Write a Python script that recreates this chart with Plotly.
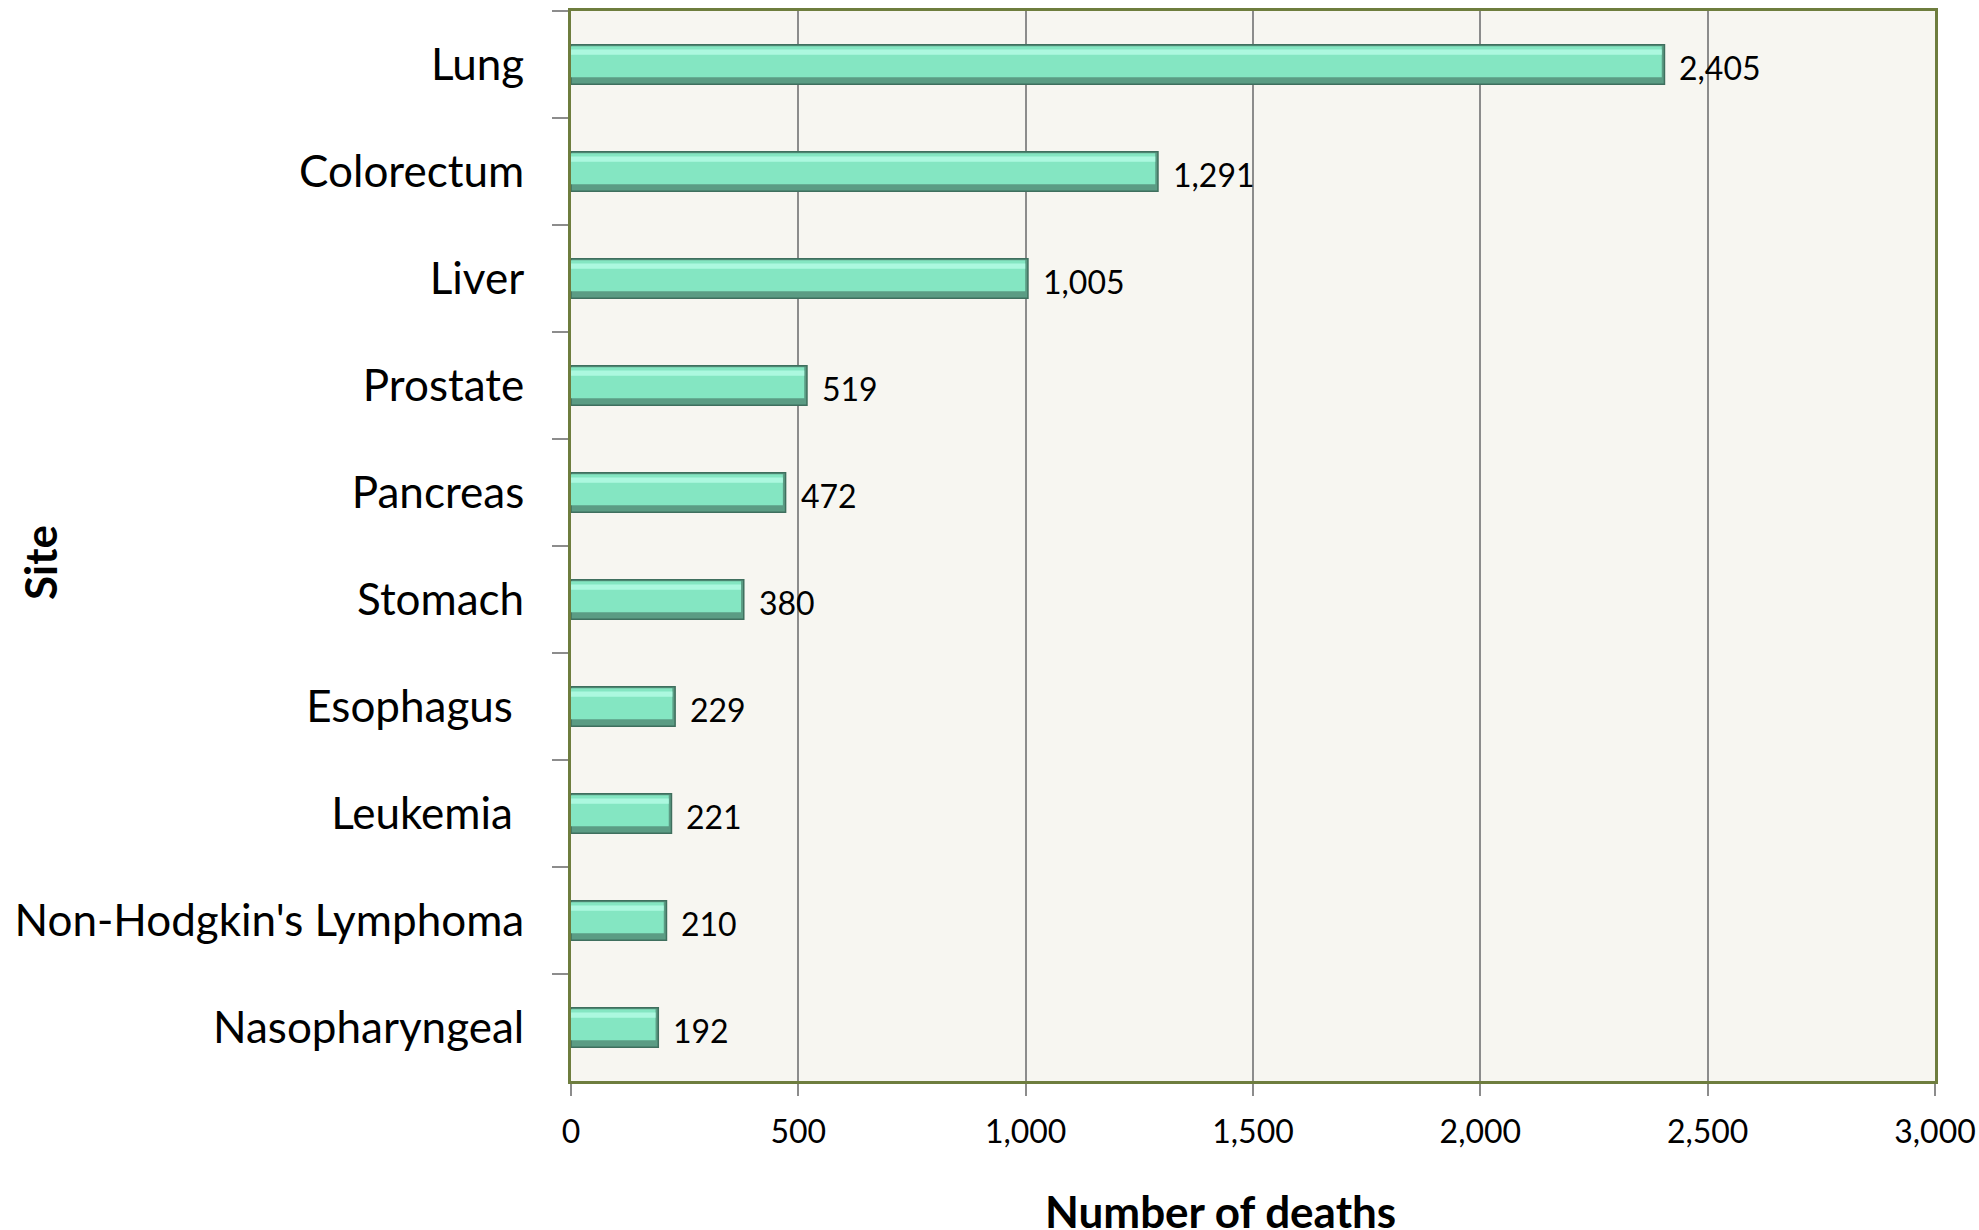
import plotly.graph_objects as go

# ---------------- data ----------------
sites = ["Lung", "Colorectum", "Liver", "Prostate", "Pancreas", "Stomach",
         "Esophagus\u00a0", "Leukemia\u00a0", "Non-Hodgkin's Lymphoma", "Nasopharyngeal"]
deaths = [2405, 1291, 1005, 519, 472, 380, 229, 221, 210, 192]
x_tick_values = [0, 500, 1000, 1500, 2000, 2500, 3000]
x_tick_labels = ["0", "500", "1,000", "1,500", "2,000", "2,500", "3,000"]
x_title = "Number of deaths"
y_title = "Site"
source_note = "The HK Cancer Registry"

# ---------------- layout geometry ----------------
W, H = 1979, 1230
L, R, T, B = 571, 44, 11, 149
PW, PH = W - L - R, H - T - B


def px_to_paper_x(px):
    return (px - L) / PW


def px_to_paper_y(py):
    return (H - B - py) / PH


FONT = "Lato, 'Open Sans', sans-serif"

fig = go.Figure()

# shadow / outline bar
fig.add_trace(go.Bar(
    x=deaths, y=sites, orientation="h",
    width=0.37, offset=-0.185,
    marker=dict(color="#5B9C84", line=dict(color="#3F6F5E", width=1.5)),
    hoverinfo="skip", showlegend=False,
))
# main face
fig.add_trace(go.Bar(
    x=[v - 6 for v in deaths], y=sites, orientation="h",
    width=0.29, offset=-0.17,
    marker=dict(color="#84E6C2", line=dict(width=0)),
    hoverinfo="skip", showlegend=False,
))
# highlight stripe
fig.add_trace(go.Bar(
    x=[v - 6 for v in deaths], y=sites, orientation="h",
    width=0.05, offset=-0.14,
    marker=dict(color="#ACF8DF", line=dict(width=0)),
    hoverinfo="skip", showlegend=False,
))

annotations = []
for s, v in zip(sites, deaths):
    annotations.append(dict(
        x=v, y=s, xref="x", yref="y", text=f"{v:,}",
        xanchor="left", yanchor="middle", xshift=13, yshift=-3,
        showarrow=False, font=dict(family=FONT, size=32, color="#000000"),
    ))

annotations.append(dict(
    x=px_to_paper_x(1220), y=px_to_paper_y(1211), xref="paper", yref="paper",
    text=f"<b>{x_title}</b>", showarrow=False, xanchor="center", yanchor="middle",
    font=dict(family=FONT, size=44, color="#000000"),
))
annotations.append(dict(
    x=px_to_paper_x(40), y=px_to_paper_y(563), xref="paper", yref="paper",
    text=f"<b>{y_title}</b>", showarrow=False, xanchor="center", yanchor="middle",
    textangle=-90, font=dict(family=FONT, size=44, color="#000000"),
))
annotations.append(dict(
    x=px_to_paper_x(3), y=px_to_paper_y(1221), xref="paper", yref="paper",
    text=f"<b>{source_note}</b>", showarrow=False, xanchor="left", yanchor="top",
    font=dict(family=FONT, size=32, color="#000000"),
))

fig.update_layout(
    width=W, height=H,
    autosize=False,
    margin=dict(l=L, r=R, t=T, b=B, pad=0, autoexpand=False),
    paper_bgcolor="#FFFFFF",
    plot_bgcolor="#F7F6F1",
    barmode="overlay",
    showlegend=False,
    font=dict(family=FONT, color="#000000"),
    annotations=annotations,
)

fig.update_xaxes(
    range=[0, 3000],
    automargin=False,
    tickmode="array", tickvals=x_tick_values, ticktext=x_tick_labels,
    tickfont=dict(family=FONT, size=32, color="#000000"),
    showgrid=True, gridcolor="#8C8C8C", gridwidth=1.5,
    zeroline=False,
    showline=True, linecolor="#6E7D3E", linewidth=3, mirror=True,
    ticks="outside", ticklen=12, tickwidth=2, tickcolor="#8C8C8C",
    ticklabelstandoff=9,
)
fig.update_yaxes(
    autorange="reversed",
    automargin=False,
    type="category",
    tickfont=dict(family=FONT, size=44, color="#000000"),
    showgrid=False, zeroline=False,
    showline=True, linecolor="#6E7D3E", linewidth=3, mirror=True,
    ticks="outside", tickson="boundaries", ticklen=16, tickwidth=2, tickcolor="#8C8C8C",
    ticklabelstandoff=35,
)

fig.write_html(
    "out.html",
    config={"displayModeBar": False, "responsive": False},
    post_script="document.body.style.margin='0';document.body.style.overflow='hidden';",
)
